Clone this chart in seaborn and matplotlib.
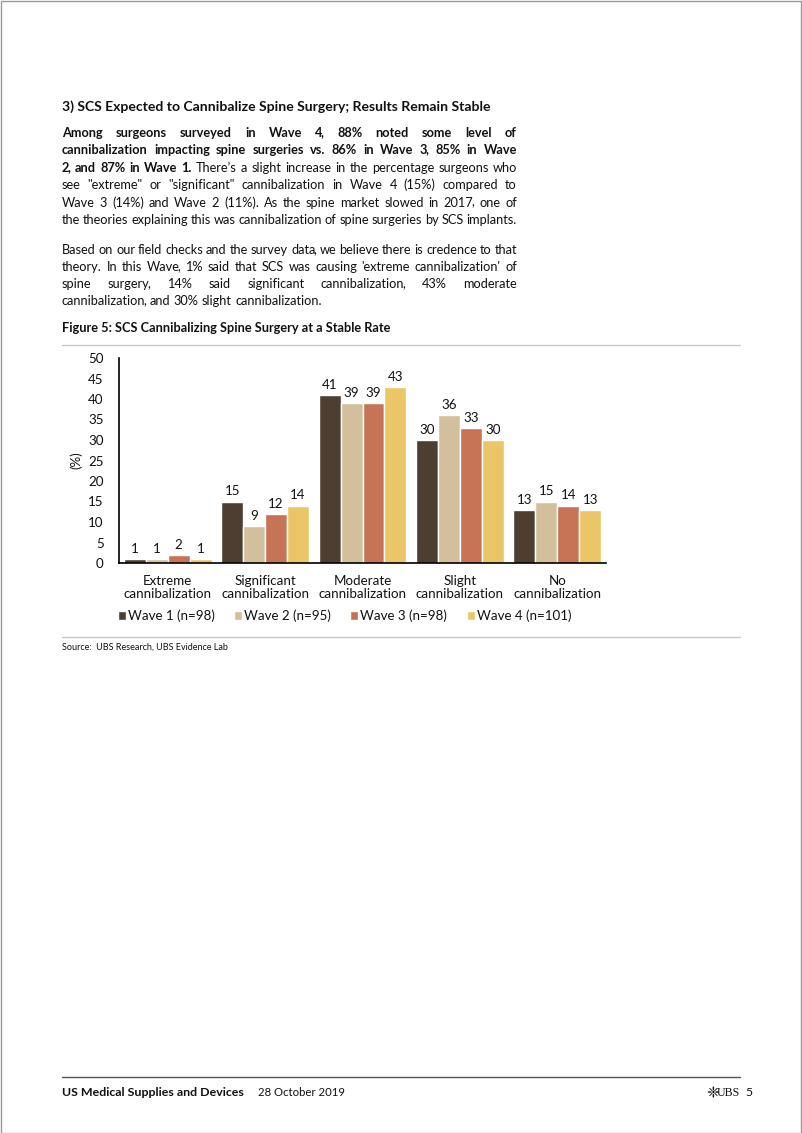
import matplotlib
matplotlib.use("Agg")
import matplotlib.pyplot as plt
from matplotlib.transforms import IdentityTransform
from matplotlib.patches import Rectangle
from matplotlib.lines import Line2D
import seaborn as sns
import pandas as pd

# ---------------- data ----------------
categories = ["Extreme\ncannibalization", "Significant\ncannibalization",
              "Moderate\ncannibalization", "Slight\ncannibalization",
              "No\ncannibalization"]
waves = ["Wave 1 (n=98)", "Wave 2 (n=95)", "Wave 3 (n=98)", "Wave 4 (n=101)"]
wave1 = [1, 15, 41, 30, 13]
wave2 = [1, 9, 39, 36, 15]
wave3 = [2, 12, 39, 33, 14]
wave4 = [1, 14, 43, 30, 13]
colors = ["#4E3D31", "#D3BF9C", "#C67356", "#EAC666"]
y_ticks = [0, 5, 10, 15, 20, 25, 30, 35, 40, 45, 50]

rows = []
for w, vals in zip(waves, [wave1, wave2, wave3, wave4]):
    for c, v in zip(categories, vals):
        rows.append({"category": c, "wave": w, "value": v})
df = pd.DataFrame(rows)

# ---------------- figure ----------------
sns.set_theme(style="white")
FONT = ["Lato", "DejaVu Sans"]
plt.rcParams["font.family"] = FONT
W, H = 802, 1133
fig = plt.figure(figsize=(W / 100, H / 100), dpi=100)
fig.patch.set_facecolor("white")
renderer = fig.canvas.get_renderer()
ID = IdentityTransform()
TXT = "#111111"


def px(x, y):
    return x, H - y


def put(x, y, s, fs, weight="normal", ha="left", color=TXT, family=None):
    t = fig.text(*px(x, y), s, fontsize=fs, fontweight=weight, ha=ha,
                 va="baseline", color=color, transform=ID,
                 family=family if family else FONT)
    return t


def width_of(t):
    return t.get_window_extent(renderer=renderer).width


def measure(s, fs, w):
    t = put(0, 0, s, fs, weight=w)
    v = width_of(t)
    t.remove()
    return v


def line_text(segments, x0, x1, y, fs, justify=True):
    # each word: (main text, trailing comma or '', weight)
    words = []
    for txt, w in segments:
        for wd in txt.split():
            if wd.endswith(",") and len(wd) > 1:
                words.append((wd[:-1], ",", w))
            else:
                words.append((wd, "", w))
    items, widths = [], []
    for main, tail, w in words:
        t_main = put(x0, y, main, fs, weight=w)
        if tail:
            full = measure(main + tail, fs, w)
            tw = measure(tail, fs, w)
            t_tail = put(x0, y, tail, fs, weight=w)
            items.append((t_main, t_tail, full - tw - 2.2))
            widths.append(full - 1.5)
        else:
            items.append((t_main, None, 0))
            widths.append(width_of(t_main))
    if justify and len(words) > 1:
        gap = (x1 - x0 - sum(widths)) / (len(words) - 1)
    else:
        gap = measure("a a", fs, "normal") - measure("aa", fs, "normal")
    x = x0
    for (t_main, t_tail, off), wdt in zip(items, widths):
        t_main.set_position(px(x, y))
        if t_tail is not None:
            t_tail.set_position(px(x + off, y))
        x += wdt + gap


# title
put(62, 111, "3) SCS Expected to Cannibalize Spine Surgery; Results Remain Stable", 10.1, weight="bold")

BFS = 9.2
X0, X1 = 62, 517
B, R = "bold", "normal"
para1 = [
    [("Among surgeons surveyed in Wave 4, 88% noted some level of", B)],
    [("cannibalization impacting spine surgeries vs. 86% in Wave 3, 85% in Wave", B)],
    [("2, and 87% in Wave 1.", B), ("There\u2019s a slight increase in the percentage surgeons who", R)],
    [("see \"extreme\" or \"significant\" cannibalization in Wave 4 (15%) compared to", R)],
    [("Wave 3 (14%) and Wave 2 (11%).  As the spine market slowed in 2017, one of", R)],
    [("the theories explaining this was cannibalization of spine surgeries by SCS implants.", R)],
]
y = 137
for seg in para1:
    line_text(seg, X0, X1, y, BFS, justify=True)
    y += 17.4

para2 = [
    ("Based on our field checks and the survey data, we believe there is credence to that", True),
    ("theory.  In this Wave, 1% said that SCS was causing 'extreme cannibalization' of", True),
    ("spine surgery, 14% said significant cannibalization, 43% moderate", True),
    ("cannibalization, and 30% slight cannibalization.", False),
]
y = 254
for s, j in para2:
    line_text([(s, R)], X0, X1, y, BFS, justify=j)
    y += 17.1

# figure caption and rules
put(62, 332, "Figure 5: SCS Cannibalizing Spine Surgery at a Stable Rate", 9.2, weight="bold")
fig.add_artist(Line2D([62, 740], [H - 345, H - 345], transform=ID, color="#c8c8c8", lw=1))
fig.add_artist(Line2D([62, 740], [H - 637, H - 637], transform=ID, color="#c8c8c8", lw=1))
put(62, 650, "Source:  UBS Research, UBS Evidence Lab", 6.5)

# footer
fig.add_artist(Line2D([62, 740], [H - 1077, H - 1077], transform=ID, color="#555555", lw=1))
put(62, 1096, "US Medical Supplies and Devices", 8.9, weight="bold")
put(258, 1096, "28 October 2019", 8.2)
put(719, 1097, "\u2748", 11, ha="right", family=["DejaVu Sans"])
put(740, 1096, "UBS", 8.6, ha="right", family=["Liberation Serif"])
put(745, 1096, "5", 8.8, ha="left")

# page frame
fig.add_artist(Rectangle((0.5, 0.5), W - 1.5, H - 1.5, transform=ID, fill=False,
                         edgecolor="#9a9a9a", lw=1))

# ---------------- chart ----------------
CFS = 9.6
ax = fig.add_axes([119 / W, 1 - 563 / H, (606 - 119) / W, (563 - 358) / H])
sns.barplot(data=df, x="category", y="value", hue="wave", palette=colors,
            width=0.9, gap=0, saturation=1, ax=ax, legend=True)
ax.set_ylim(0, 50)
ax.set_xlim(-0.5, 4.5)
ax.set_yticks(y_ticks)
ax.set_yticklabels([str(v) for v in y_ticks])
ax.tick_params(axis="y", length=0, pad=11, labelsize=CFS, labelcolor=TXT)
ax.tick_params(axis="x", length=0, pad=8.5, labelsize=CFS, labelcolor=TXT)
for lab in ax.get_xticklabels():
    lab.set_linespacing(1.15)
ax.set_xlabel("")
ax.set_ylabel("(%)", fontsize=CFS, labelpad=4, color=TXT)
for s in ["top", "right"]:
    ax.spines[s].set_visible(False)
for s in ["left", "bottom"]:
    ax.spines[s].set_color("#000000")
    ax.spines[s].set_linewidth(1.2)
for cont in ax.containers:
    ax.bar_label(cont, fmt="%d", padding=3, fontsize=CFS, color=TXT)

handles, labels = ax.get_legend_handles_labels()
ax.legend(handles, labels, ncol=4, loc="center left",
          bbox_to_anchor=(118 / W, 1 - 616 / H), bbox_transform=fig.transFigure,
          frameon=False, fontsize=CFS, handlelength=0.6, handleheight=0.6,
          handletextpad=0.15, columnspacing=1.45, borderpad=0, borderaxespad=0,
          labelcolor=TXT)

fig.savefig("out.png", dpi=100, facecolor="white")
